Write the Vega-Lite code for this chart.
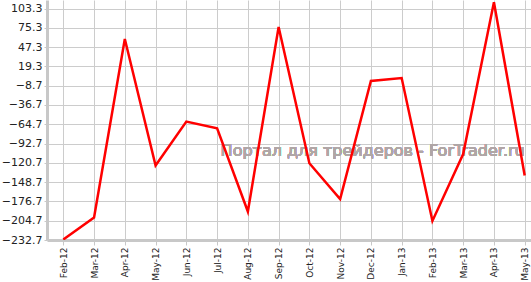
{
  "$schema": "https://vega.github.io/schema/vega-lite/v6.json",
  "autosize": "none",
  "padding": {"left": 47, "top": 0, "right": 0, "bottom": 42},
  "width": 494,
  "height": 240,
  "background": "white",
  "config": {
    "view": {"stroke": null},
    "font": "DejaVu Sans"
  },
  "data": {
    "values": [
      {"month": "Feb-12", "value": -232},
      {"month": "Mar-12", "value": -200.1},
      {"month": "Apr-12", "value": 59.0},
      {"month": "May-12", "value": -124.6},
      {"month": "Jun-12", "value": -60.8},
      {"month": "Jul-12", "value": -70.5},
      {"month": "Aug-12", "value": -191.4},
      {"month": "Sep-12", "value": 76.6},
      {"month": "Oct-12", "value": -121.2},
      {"month": "Nov-12", "value": -173.3},
      {"month": "Dec-12", "value": -1.9},
      {"month": "Jan-13", "value": 2.5},
      {"month": "Feb-13", "value": -205},
      {"month": "Mar-13", "value": -108},
      {"month": "Apr-13", "value": 112.5},
      {"month": "May-13", "value": -139.2}
    ]
  },
  "encoding": {
    "x": {
      "field": "month",
      "type": "ordinal",
      "sort": null,
      "scale": {
        "type": "point",
        "padding": 0.53,
        "domain": ["Feb-12", "Mar-12", "Apr-12", "May-12", "Jun-12", "Jul-12", "Aug-12", "Sep-12", "Oct-12", "Nov-12", "Dec-12", "Jan-13", "Feb-13", "Mar-13", "Apr-13", "May-13"]
      },
      "axis": {
        "title": null,
        "labelAngle": -90,
        "labelFontSize": 9,
        "labelColor": "#222222",
        "labelPadding": 2,
        "tickSize": 5,
        "tickColor": "#c8c8c8",
        "domainColor": "#c8c8c8",
        "domainWidth": 3,
        "grid": true,
        "gridColor": "#cccccc",
        "gridWidth": 1
      }
    },
    "y": {
      "field": "value",
      "type": "quantitative",
      "scale": {"domain": [-232.7, 115.7], "nice": false, "zero": false},
      "axis": {
        "title": null,
        "values": [103.3, 75.3, 47.3, 19.3, -8.7, -36.7, -64.7, -92.7, -120.7, -148.7, -176.7, -204.7, -232.7],
        "format": ".1f",
        "labelFontSize": 11,
        "labelColor": "#222222",
        "labelPadding": 2,
        "tickSize": 3,
        "tickColor": "#c8c8c8",
        "domainColor": "#c8c8c8",
        "domainWidth": 3,
        "grid": true,
        "gridColor": "#cccccc",
        "gridWidth": 1
      }
    }
  },
  "layer": [
    {
      "mark": {
        "type": "text",
        "text": "Портал для трейдеров - ForTrader.ru",
        "align": "right",
        "baseline": "alphabetic",
        "fontSize": 16,
        "color": "#b0a6a6"
      },
      "encoding": {
        "x": {"datum": "May-13"},
        "y": {"datum": -111.2}
      }
    },
    {
      "mark": {"type": "line", "color": "#ff0000", "strokeWidth": 2.5, "clip": true}
    }
  ]
}
